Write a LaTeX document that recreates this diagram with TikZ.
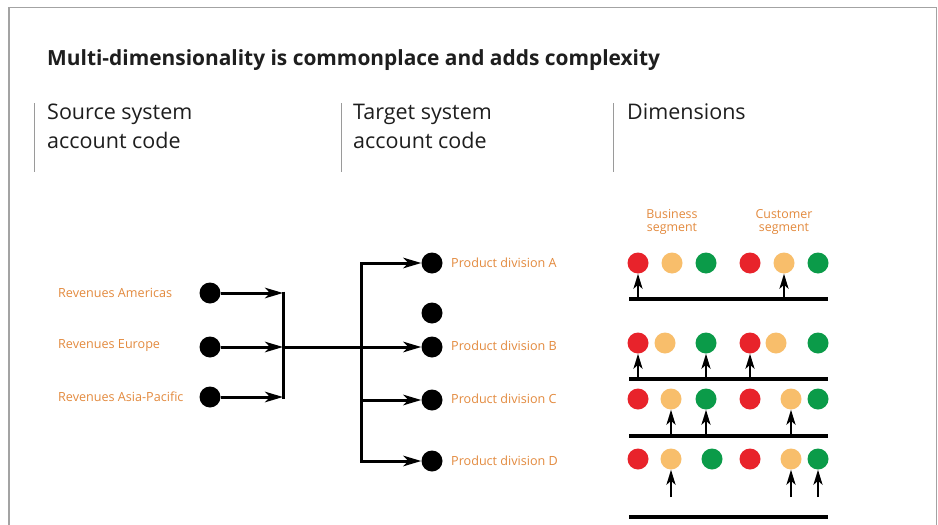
\documentclass[tikz,border=0pt]{standalone}
\usepackage{fontspec}
\setmainfont{Open Sans}
\usetikzlibrary{arrows.meta}
\definecolor{framegray}{HTML}{A3A3A3}
\definecolor{hdrgray}{HTML}{9A9A9A}
\definecolor{lbl}{HTML}{E38A3E}
\definecolor{cred}{HTML}{E8232B}
\definecolor{corange}{HTML}{F8BE6B}
\definecolor{cgreen}{HTML}{0B9B49}
\definecolor{txt}{HTML}{1E1E1E}
\tikzset{
  dot/.style={circle,fill=black,inner sep=0pt,minimum size=21pt},
  cdot/.style={circle,fill=#1,inner sep=0pt,minimum size=21pt},
  lbltext/.style={text=lbl,font=\fontsize{12.6}{14}\selectfont,inner sep=0pt,anchor=west},
  flow/.style={line width=3pt,line join=miter,-{Stealth[length=18pt,width=10.5pt,inset=5pt]}},
  plain/.style={line width=3pt},
  upar/.style={line width=2.7pt,-{Stealth[length=15pt,width=9pt,inset=4pt]}},
  base/.style={line width=3.2pt},
  hdr/.style={text=txt,font=\fontsize{21.5}{28.5}\selectfont,inner sep=0pt,anchor=north west,align=left},
  sep/.style={hdrgray,line width=0.9pt},
  seghdr/.style={text=lbl,font=\fontsize{12.4}{13.5}\selectfont,inner sep=0pt,align=center}
}
\begin{document}
\begin{tikzpicture}[x=1pt,y=-1pt]
\useasboundingbox (0,0) rectangle (938,525);
\fill[white] (0,0) rectangle (938,525);
% frame
\draw[framegray,line width=1.6pt] (9,530) -- (9,7.5) -- (936.5,7.5) -- (936.5,530);
% title
\node[text=txt,font=\bfseries\fontsize{20.9}{24}\selectfont,inner sep=0pt,anchor=base west] (title) at (47,65) {Multi-dimensionality is commonplace and adds complexity};
% headers
\draw[sep] (34,103) -- (34,172);
\draw[sep] (341,103) -- (341,172);
\draw[sep] (613,103) -- (613,172);
\node[hdr] (h1) at (47,104) {Source system\\account code};
\node[hdr] (h2) at (353,104) {Target system\\account code};
\node[hdr] (h3) at (627,104) {Dimensions};
% source nodes
\node[dot] (s1) at (210,293) {};
\node[dot] (s2) at (210,347) {};
\node[dot] (s3) at (210,397) {};
\node[lbltext] (l1) at (58,293) {Revenues Americas};
\node[lbltext] (l2) at (58,346) {Revenues Europe};
\node[lbltext] (l3) at (58,397) {Revenues Asia-Pacific};
\coordinate (b1) at (283,293);
\coordinate (b2) at (283,347);
\coordinate (b3) at (283,397);
\draw[flow] (s1) -- (b1);
\draw[flow] (s2) -- (b2);
\draw[flow] (s3) -- (b3);
\draw[plain] ([yshift=1.5pt]b1) -- ([yshift=-1.5pt]b3);
% target nodes
\node[dot] (pA) at (432,263) {};
\node[dot] (px) at (432,313) {};
\node[dot] (pB) at (432,347) {};
\node[dot] (pC) at (432,400) {};
\node[dot] (pD) at (432,461) {};
\node[lbltext] (tA) at (451,263) {Product division A};
\node[lbltext] (tB) at (451,346) {Product division B};
\node[lbltext] (tC) at (451,399) {Product division C};
\node[lbltext] (tD) at (451,461) {Product division D};
\coordinate (vA) at (361,263);
\coordinate (vC) at (361,400);
\coordinate (vD) at (361,461);
\draw[flow] (b2) -- (pB);
\draw[flow] (vD) -- (vA) -- (pA);
\draw[flow] (vC) -- (pC);
\draw[flow] ([yshift=-1.5pt]vD) |- (pD);
% dimension headers
\node[seghdr] (sg1) at (672,222) {Business\\segment};
\node[seghdr] (sg2) at (784,222) {Customer\\segment};
% row 1
\node[cdot=cred] (r1a) at (638,263) {};
\node[cdot=corange] (r1b) at (672,263) {};
\node[cdot=cgreen] (r1c) at (706,263) {};
\node[cdot=cred] (r1d) at (750,263) {};
\node[cdot=corange] (r1e) at (784,263) {};
\node[cdot=cgreen] (r1f) at (818,263) {};
\coordinate (L1a) at (629,299); \coordinate (L1b) at (828,299);
\draw[base] (L1a) -- (L1b);
\draw[upar] (638,299) -- (r1a.south);
\draw[upar] (784,299) -- (r1e.south);
% row 2
\node[cdot=cred] (r2a) at (638,343) {};
\node[cdot=corange] (r2b) at (665,343) {};
\node[cdot=cgreen] (r2c) at (706,343) {};
\node[cdot=cred] (r2d) at (750,343) {};
\node[cdot=corange] (r2e) at (776,343) {};
\node[cdot=cgreen] (r2f) at (818,343) {};
\coordinate (L2a) at (629,379); \coordinate (L2b) at (828,379);
\draw[base] (L2a) -- (L2b);
\draw[upar] (638,379) -- (r2a.south);
\draw[upar] (706,379) -- (r2c.south);
\draw[upar] (750,379) -- (r2d.south);
% row 3
\node[cdot=cred] (r3a) at (638,399) {};
\node[cdot=corange] (r3b) at (671,399) {};
\node[cdot=cgreen] (r3c) at (706,399) {};
\node[cdot=cred] (r3d) at (750,399) {};
\node[cdot=corange] (r3e) at (791,399) {};
\node[cdot=cgreen] (r3f) at (818,399) {};
\coordinate (L3a) at (629,436); \coordinate (L3b) at (828,436);
\draw[base] (L3a) -- (L3b);
\draw[upar] (671,436) -- (r3b.south);
\draw[upar] (706,436) -- (r3c.south);
\draw[upar] (791,436) -- (r3e.south);
% row 4
\node[cdot=cred] (r4a) at (638,459) {};
\node[cdot=corange] (r4b) at (671,459) {};
\node[cdot=cgreen] (r4c) at (712,459) {};
\node[cdot=cred] (r4d) at (750,459) {};
\node[cdot=corange] (r4e) at (791,459) {};
\node[cdot=cgreen] (r4f) at (818,459) {};
\coordinate (f4b) at (671,497);
\coordinate (f4e) at (791,497);
\coordinate (f4f) at (818,497);
\draw[upar] (f4b) -- (r4b.south);
\draw[upar] (f4e) -- (r4e.south);
\draw[upar] (f4f) -- (r4f.south);
\coordinate (L4a) at (629,517); \coordinate (L4b) at (828,517);
\draw[base] (L4a) -- (L4b);
\end{tikzpicture}
\end{document}
